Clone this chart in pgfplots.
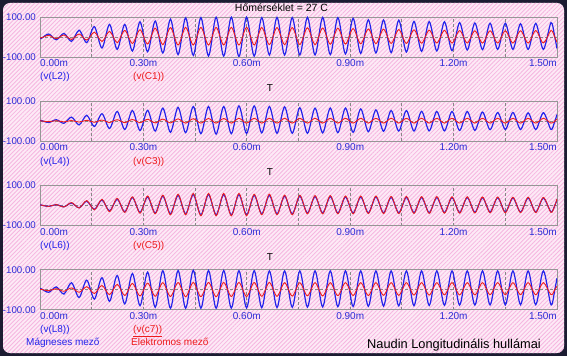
\documentclass[border=0pt]{standalone}
\usepackage{pgfplots}
\pgfplotsset{compat=1.18}
\usepackage{pgfplotstable}
\usepackage{fontspec}
\setmainfont{Liberation Sans}
\usetikzlibrary{patterns.meta}

\definecolor{frame}{RGB}{28,28,50}
\definecolor{bgbase}{RGB}{253,234,246}
\definecolor{hatch}{RGB}{246,182,224}
\definecolor{lblue}{RGB}{35,35,235}
\definecolor{lred}{RGB}{238,28,28}
\definecolor{tickblue}{RGB}{45,45,215}
\definecolor{gridgray}{RGB}{135,135,135}
\definecolor{boxgray}{RGB}{150,150,150}

\pgfplotstableread{
t L2 C1 L4 C3 L6 C5 L8 C7
0.0000 -7 -4 3 2 3 3 5 3
0.0031 -8 -5 4 2 3 3 6 3
0.0252 15 8 -6 -2 -4 -4 -12 -4
0.0473 -14 -8 8 3 5 5 15 6
0.0694 18 10 -10 -3 -6 -7 -21 -7
0.0914 -22 -12 21 4 13 15 36 10
0.1135 34 15 -18 -4 -11 -12 -38 -12
0.1356 -28 -15 30 5 22 25 49 16
0.1577 52 24 -26 -5 -19 -21 -46 -18
0.1798 -55 -22 38 6 28 31 61 22
0.2018 63 28 -36 -6 -27 -30 -57 -24
0.2239 -62 -28 49 8 32 36 72 28
0.2460 63 33 -41 -7 -31 -34 -70 -28
0.2681 -70 -32 54 9 40 44 82 32
0.2902 76 36 -46 -7 -34 -38 -79 -30
0.3122 -74 -35 55 10 43 48 89 34
0.3343 80 44 -49 -8 -37 -41 -87 -32
0.3564 -80 -38 66 11 47 52 96 36
0.3785 89 47 -55 -8 -41 -46 -92 -33
0.4006 -88 -40 70 12 51 57 97 37
0.4226 96 48 -57 -9 -41 -46 -92 -34
0.4447 -92 -40 74 13 55 61 98 37
0.4668 97 48 -62 -9 -46 -51 -92 -34
0.4889 -95 -40 74 14 55 61 97 37
0.5110 99 48 -64 -9 -46 -51 -92 -34
0.5330 -96 -40 74 14 55 61 97 37
0.5551 99 48 -62 -9 -46 -51 -91 -33
0.5772 -98 -40 77 15 55 61 96 37
0.5993 99 48 -61 -9 -46 -51 -90 -33
0.6214 -96 -40 77 15 51 57 96 37
0.6434 97 47 -58 -9 -41 -46 -89 -32
0.6655 -90 -38 74 15 51 57 95 37
0.6876 98 47 -60 -9 -41 -46 -88 -32
0.7097 -90 -38 72 15 47 52 95 36
0.7318 97 47 -60 -9 -41 -46 -87 -31
0.7538 -90 -38 68 15 47 52 95 36
0.7759 98 46 -60 -9 -37 -41 -86 -30
0.7980 -90 -38 66 15 45 50 95 36
0.8201 98 45 -58 -9 -37 -41 -85 -30
0.8422 -88 -36 66 15 45 50 95 36
0.8642 97 44 -57 -9 -37 -41 -84 -29
0.8863 -85 -35 66 15 43 48 95 36
0.9084 93 42 -55 -9 -37 -41 -83 -28
0.9305 -82 -34 62 15 43 48 95 36
0.9526 86 40 -52 -9 -36 -40 -82 -28
0.9746 -80 -33 57 15 43 48 95 36
0.9967 85 39 -50 -9 -36 -40 -81 -27
1.0188 -78 -32 54 15 41 46 95 36
1.0409 84 37 -49 -9 -36 -40 -80 -27
1.0630 -75 -32 54 15 41 46 95 36
1.0850 78 36 -49 -9 -35 -39 -79 -26
1.1071 -72 -31 50 15 40 45 95 36
1.1292 77 34 -48 -9 -35 -39 -78 -26
1.1513 -70 -30 49 15 40 45 95 36
1.1734 76 33 -48 -9 -34 -38 -77 -25
1.1954 -68 -30 49 15 40 44 95 36
1.2175 72 32 -46 -9 -34 -38 -76 -25
1.2396 -65 -30 49 15 40 44 95 36
1.2617 70 31 -45 -9 -33 -37 -76 -25
1.2838 -63 -30 46 15 39 43 95 36
1.3058 69 31 -42 -9 -32 -36 -75 -24
1.3279 -62 -30 44 15 39 43 95 36
1.3500 69 31 -41 -9 -32 -36 -75 -24
1.3721 -62 -30 44 15 38 42 95 36
1.3942 66 31 -41 -9 -32 -35 -74 -24
1.4162 -62 -30 42 15 38 42 95 36
1.4383 68 32 -41 -9 -32 -35 -74 -24
1.4604 -62 -30 43 15 37 41 95 36
1.4825 72 32 -41 -9 -31 -34 -74 -24
1.4935 0 0 0 0 0 0 0 0
1.5000 -58 -26 34 12 30 33 59 19
}\data

\newcommand\lf{\fontsize{10}{12}\selectfont}
\newcommand\yf{\fontsize{9.7}{12}\selectfont}

\pgfplotsset{panel/.style={
  anchor=south west, scale only axis, width=517pt, height=40pt,
  xmin=0, xmax=1.5, ymin=-100, ymax=100,
  axis line style={draw=boxgray, line width=0.9pt},
  xtick={0.15,0.30,0.45,0.60,0.75,0.90,1.05,1.20,1.35},
  xticklabels={}, ytick={0}, yticklabels={},
  major tick length=0pt,
  xmajorgrids, ymajorgrids,
  major grid style={draw=gridgray, line width=0.9pt, dash pattern=on 3pt off 2pt},
  every axis plot/.append style={no markers, smooth},
}}

\newcommand\panellabels[3]{%
  \node[anchor=east, inner sep=0, text=tickblue, font=\yf] at (36,{#1+40}) {100.00};
  \node[anchor=east, inner sep=0, text=tickblue, font=\yf] at (36,{#1}) {-100.00};
  \node[anchor=base west, inner sep=0, text=tickblue, font=\lf] at (40,{#1-9.5}) {0.00m};
  \node[anchor=base, inner sep=0, text=tickblue, font=\lf] at (143.4,{#1-9.5}) {0.30m};
  \node[anchor=base, inner sep=0, text=tickblue, font=\lf] at (246.8,{#1-9.5}) {0.60m};
  \node[anchor=base, inner sep=0, text=tickblue, font=\lf] at (350.2,{#1-9.5}) {0.90m};
  \node[anchor=base, inner sep=0, text=tickblue, font=\lf] at (453.6,{#1-9.5}) {1.20m};
  \node[anchor=base east, inner sep=0, text=tickblue, font=\lf] at (557,{#1-9.5}) {1.50m};
  \node[anchor=base west, inner sep=0, text=lblue, font=\lf] at (40,{#1-23}) {#2};
  \node[anchor=base west, inner sep=0, text=lred, font=\lf] at (133,{#1-23}) {#3};
}

\begin{document}
\begin{tikzpicture}[x=1pt,y=1pt]
\path[use as bounding box] (0,0) rectangle (567,356);
\fill[frame] (0,0) rectangle (567,356);
\fill[bgbase, rounded corners=7pt] (3,3) rectangle (564,353);
\fill[pattern={Lines[angle=45,distance=3pt,line width=0.85pt]}, pattern color=hatch, rounded corners=7pt] (3,3) rectangle (564,353);

\node[anchor=base, inner sep=0, font=\fontsize{10.5}{12}\selectfont] at (281.5,344.3) {Hőmérséklet = 27 C};

\begin{axis}[panel, at={(40pt,299pt)}]
\addplot[lblue, line width=1.2pt] table[x=t,y=L2]{\data};
\addplot[lred, line width=0.9pt] table[x=t,y=C1]{\data};
\end{axis}
\panellabels{299}{(v(L2))}{(v(C1))}
\node[anchor=base, inner sep=0, font=\lf] at (270,{299-34.5}) {T};

\begin{axis}[panel, at={(40pt,214.7pt)}]
\addplot[lblue, line width=1.2pt] table[x=t,y=L4]{\data};
\addplot[lred, line width=0.9pt] table[x=t,y=C3]{\data};
\end{axis}
\panellabels{214.7}{(v(L4))}{(v(C3))}
\node[anchor=base, inner sep=0, font=\lf] at (270,{214.7-34.5}) {T};

\begin{axis}[panel, at={(40pt,130.4pt)}]
\addplot[lblue, line width=1.2pt] table[x=t,y=L6]{\data};
\addplot[lred, line width=0.9pt] table[x=t,y=C5]{\data};
\end{axis}
\panellabels{130.4}{(v(L6))}{(v(C5))}
\node[anchor=base, inner sep=0, font=\lf] at (270,{130.4-34.5}) {T};

\begin{axis}[panel, at={(40pt,46.1pt)}]
\addplot[lblue, line width=1.2pt] table[x=t,y=L8]{\data};
\addplot[lred, line width=0.9pt] table[x=t,y=C7]{\data};
\end{axis}
\panellabels{46.1}{(v(L8))}{\underline{(v(c7))}}

\node[anchor=base west, inner sep=0, text=lblue, font=\lf] at (26,11) {Mágneses mező};
\node[anchor=base west, inner sep=0, text=lred, font=\lf] at (131,11) {Elektromos mező};
\node[anchor=base west, inner sep=0, font=\fontsize{12.8}{14}\selectfont] at (367,7.7) {Naudin Longitudinális hullámai};
\end{tikzpicture}
\end{document}
